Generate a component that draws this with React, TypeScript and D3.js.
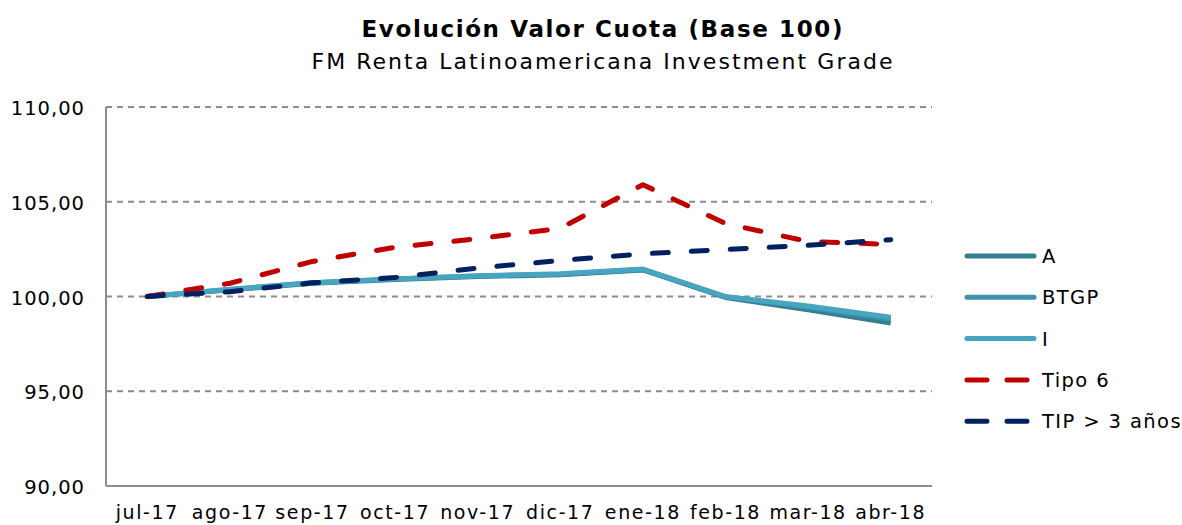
import React from "react";
import * as d3 from "d3";

const categories = ["jul-17", "ago-17", "sep-17", "oct-17", "nov-17", "dic-17", "ene-18", "feb-18", "mar-18", "abr-18"];
const serieA = [100, 100.35, 100.7, 100.9, 101.05, 101.15, 101.4, 99.95, 99.3, 98.6];
const serieBTGP = [100, 100.37, 100.72, 100.92, 101.08, 101.18, 101.43, 99.98, 99.42, 98.8];
const serieI = [100, 100.38, 100.73, 100.93, 101.09, 101.2, 101.45, 100.0, 99.5, 98.9];
const serieTipo6 = [100, 100.7, 101.85, 102.6, 103.05, 103.6, 105.9, 103.85, 102.9, 102.75];
const serieTIP = [100, 100.25, 100.72, 101.0, 101.5, 101.9, 102.25, 102.48, 102.7, 103.0];
const yTicks = [90, 95, 100, 105, 110];

const seriesList = [
  { name: "A", values: serieA, color: "#357d92", dash: false },
  { name: "BTGP", values: serieBTGP, color: "#3b92aa", dash: false },
  { name: "I", values: serieI, color: "#47a5c0", dash: false },
  { name: "Tipo 6", values: serieTipo6, color: "#c00000", dash: true },
  { name: "TIP > 3 años", values: serieTIP, color: "#002060", dash: true },
];

const W = 1182;
const H = 525;
const left = 106;
const right = 932;
const top = 107;
const bottom = 486;
const font = "'DejaVu Sans', Verdana, sans-serif";

export default function App() {
  const x = d3.scaleBand<string>().domain(categories).range([left, right]);
  const y = d3.scaleLinear().domain([90, 110]).range([bottom, top]);
  const cx = (c: string) => (x(c) as number) + x.bandwidth() / 2;
  const line = d3
    .line<number>()
    .x((_, i) => cx(categories[i]))
    .y((v) => y(v));
  const fmt = (v: number) => v.toFixed(2).replace(".", ",");
  const legendX = 964;
  const legendY0 = 256;
  const legendStep = 41.3;

  return (
    <svg width={W} height={H} style={{ position: "absolute", left: 0, top: 0, background: "#fff" }} fontFamily={font}>
      <text x={602} y={37} textAnchor="middle" fontSize={23} fontWeight="bold" fill="#000" textLength={481} lengthAdjust="spacing">
        Evolución Valor Cuota (Base 100)
      </text>
      <text x={602} y={69} textAnchor="middle" fontSize={22} fill="#000" textLength={581} lengthAdjust="spacing">
        FM Renta Latinoamericana Investment Grade
      </text>
      {yTicks.map((t) => (
        <g key={t}>
          {t !== 90 && (
            <line x1={left} x2={right} y1={y(t)} y2={y(t)} stroke="#8c8c8c" strokeWidth={2} strokeDasharray="6,5" />
          )}
          <text x={85} y={y(t) + 8} textAnchor="end" fontSize={19.5} letterSpacing={1} fill="#000">
            {fmt(t)}
          </text>
        </g>
      ))}
      <line x1={left} x2={left} y1={top} y2={bottom} stroke="#8c8c8c" strokeWidth={2} />
      <line x1={left} x2={right} y1={bottom} y2={bottom} stroke="#8c8c8c" strokeWidth={2} />
      {categories.map((c) => (
        <text key={c} x={cx(c)} y={519} textAnchor="middle" fontSize={19} letterSpacing={1.6} fill="#000">
          {c}
        </text>
      ))}
      {seriesList.map((s) => (
        <path
          key={s.name}
          d={line(s.values) || ""}
          fill="none"
          stroke={s.color}
          strokeWidth={5}
          strokeLinecap={s.dash ? "round" : "butt"}
          strokeLinejoin="round"
          strokeDasharray={s.dash ? "16,23" : undefined}
        />
      ))}
      {seriesList.map((s, i) => {
        const ly = legendY0 + i * legendStep;
        return (
          <g key={s.name}>
            <line
              x1={legendX + 3}
              x2={legendX + 70}
              y1={ly}
              y2={ly}
              stroke={s.color}
              strokeWidth={5}
              strokeLinecap="round"
              strokeDasharray={s.dash ? "20,20" : undefined}
            />
            <text x={legendX + 78} y={ly + 7} fontSize={19.5} letterSpacing={1.4} fill="#000">
              {s.name}
            </text>
          </g>
        );
      })}
    </svg>
  );
}
